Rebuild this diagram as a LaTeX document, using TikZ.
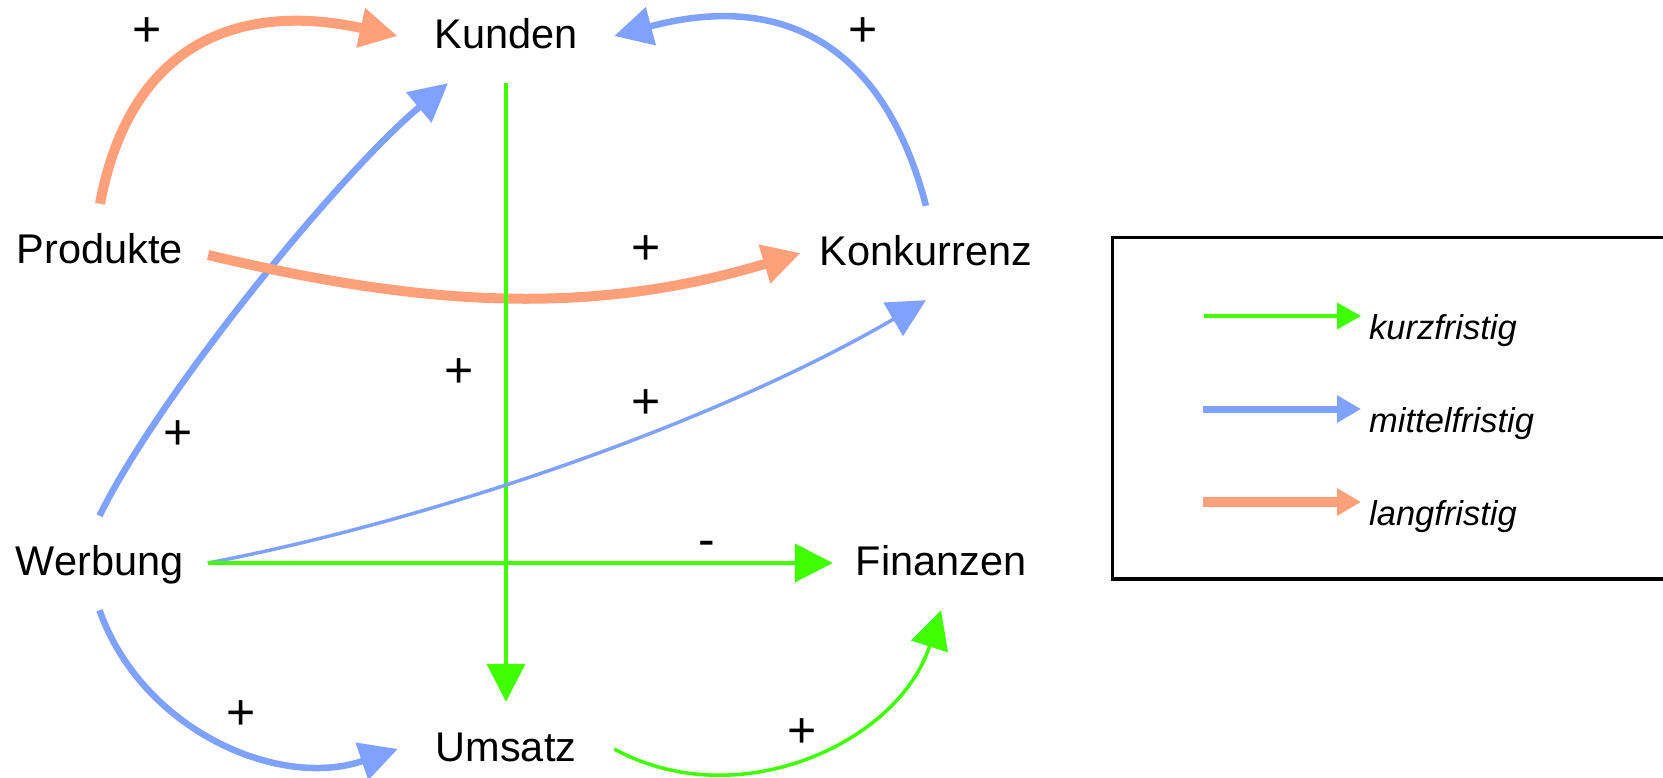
\documentclass[tikz,border=0pt]{standalone}
\usepackage{fontspec}
\setmainfont{Liberation Sans}
\usetikzlibrary{arrows.meta}
\definecolor{langc}{RGB}{255,160,122}
\definecolor{mittelc}{RGB}{127,161,255}
\definecolor{kurzc}{RGB}{64,255,0}
\begin{document}
\begin{tikzpicture}[x=1pt,y=-1pt,
  concept/.style={inner sep=0pt, minimum width=216pt, minimum height=94pt,
    text height=30pt, text depth=6pt, font=\fontsize{41.5pt}{50pt}\selectfont},
  sign/.style={inner sep=0pt, font=\fontsize{50pt}{60pt}\selectfont},
  legtext/.style={inner sep=0pt, anchor=base west, font=\fontsize{34.5pt}{40pt}\selectfont\itshape},
  bigtip/.style={-{Triangle[length=38pt,width=38pt]}},
  smalltip/.style={-{Triangle[length=24pt,width=26pt]}},
  langarrow/.style={draw=langc, line width=10pt, bigtip},
  mittelarrow/.style={draw=mittelc, line width=6.5pt, bigtip},
  mittelthin/.style={draw=mittelc, line width=3.5pt, bigtip},
  kurzarrow/.style={draw=kurzc, line width=4pt, bigtip},
  legbox/.style={draw=black, line width=3.4pt}
]
\useasboundingbox (0,0) rectangle (1663,777);

% concept nodes
\node[concept] (kunden) at (506,36) {Kunden};
\node[concept] (prod) at (100,251) {Produkte};
\node[concept, minimum width=250pt] (konk) at (926,253) {Konkurrenz};
\node[concept] (werb) at (99.5,563) {Werbung};
\node[concept] (fin) at (941,563) {Finanzen};
\node[concept] (ums) at (506,749) {Umsatz};

% connectors
\draw[langarrow] (prod.north) .. controls +(30,-160) and +(-160,-35) .. (kunden.west);
\draw[mittelarrow] (werb.north) .. controls +(60,-122) and +(-108,90) .. ([xshift=-58pt]kunden.south);
\draw[mittelarrow] (konk.north) .. controls +(-43,-165) and +(165,-44) .. (kunden.east);
\draw[langarrow] ([yshift=-4pt]prod.east) .. controls +(213,51) and +(-211,64) .. (konk.west);
\draw[kurzarrow] (kunden.south) -- (ums.north);
\draw[mittelthin] (werb.east) .. controls +(212,-40) and +(-218,127) .. (konk.south);
\draw[kurzarrow] (werb.east) -- (fin.west);
\draw[mittelarrow] (werb.south) .. controls +(42,119) and +(-120,41) .. (ums.west);
\draw[kurzarrow, line width=3.5pt] (ums.east) .. controls +(125,68) and +(-42,132) .. (fin.south);

% signs
\node[sign] (s1) at (147,32) {+};
\node[sign] (s2) at (863,32) {+};
\node[sign] (s3) at (646,250) {+};
\node[sign] (s4) at (178,435) {+};
\node[sign] (s5) at (459,373) {+};
\node[sign] (s6) at (646,404) {+};
\node[sign] (s7) at (241,715) {+};
\node[sign] (s8) at (802,733) {+};
\node[sign] (s9) at (707,549) {-};

% legend
\draw[legbox] (1112.7,237.3) rectangle (1700,579);
\coordinate (lk0) at (1204,316);
\coordinate (lk1) at (1361,316);
\coordinate (lm0) at (1203,409);
\coordinate (lm1) at (1361,409);
\coordinate (ll0) at (1203,502);
\coordinate (ll1) at (1361,502);
\draw[draw=kurzc, line width=3.5pt, smalltip] (lk0) -- (lk1);
\draw[draw=mittelc, line width=7pt, smalltip] (lm0) -- (lm1);
\draw[draw=langc, line width=10pt, smalltip] (ll0) -- (ll1);
\node[legtext] (lt1) at (1369,339) {kurzfristig};
\node[legtext] (lt2) at (1369,432) {mittelfristig};
\node[legtext] (lt3) at (1369,525) {langfristig};
\end{tikzpicture}
\end{document}
